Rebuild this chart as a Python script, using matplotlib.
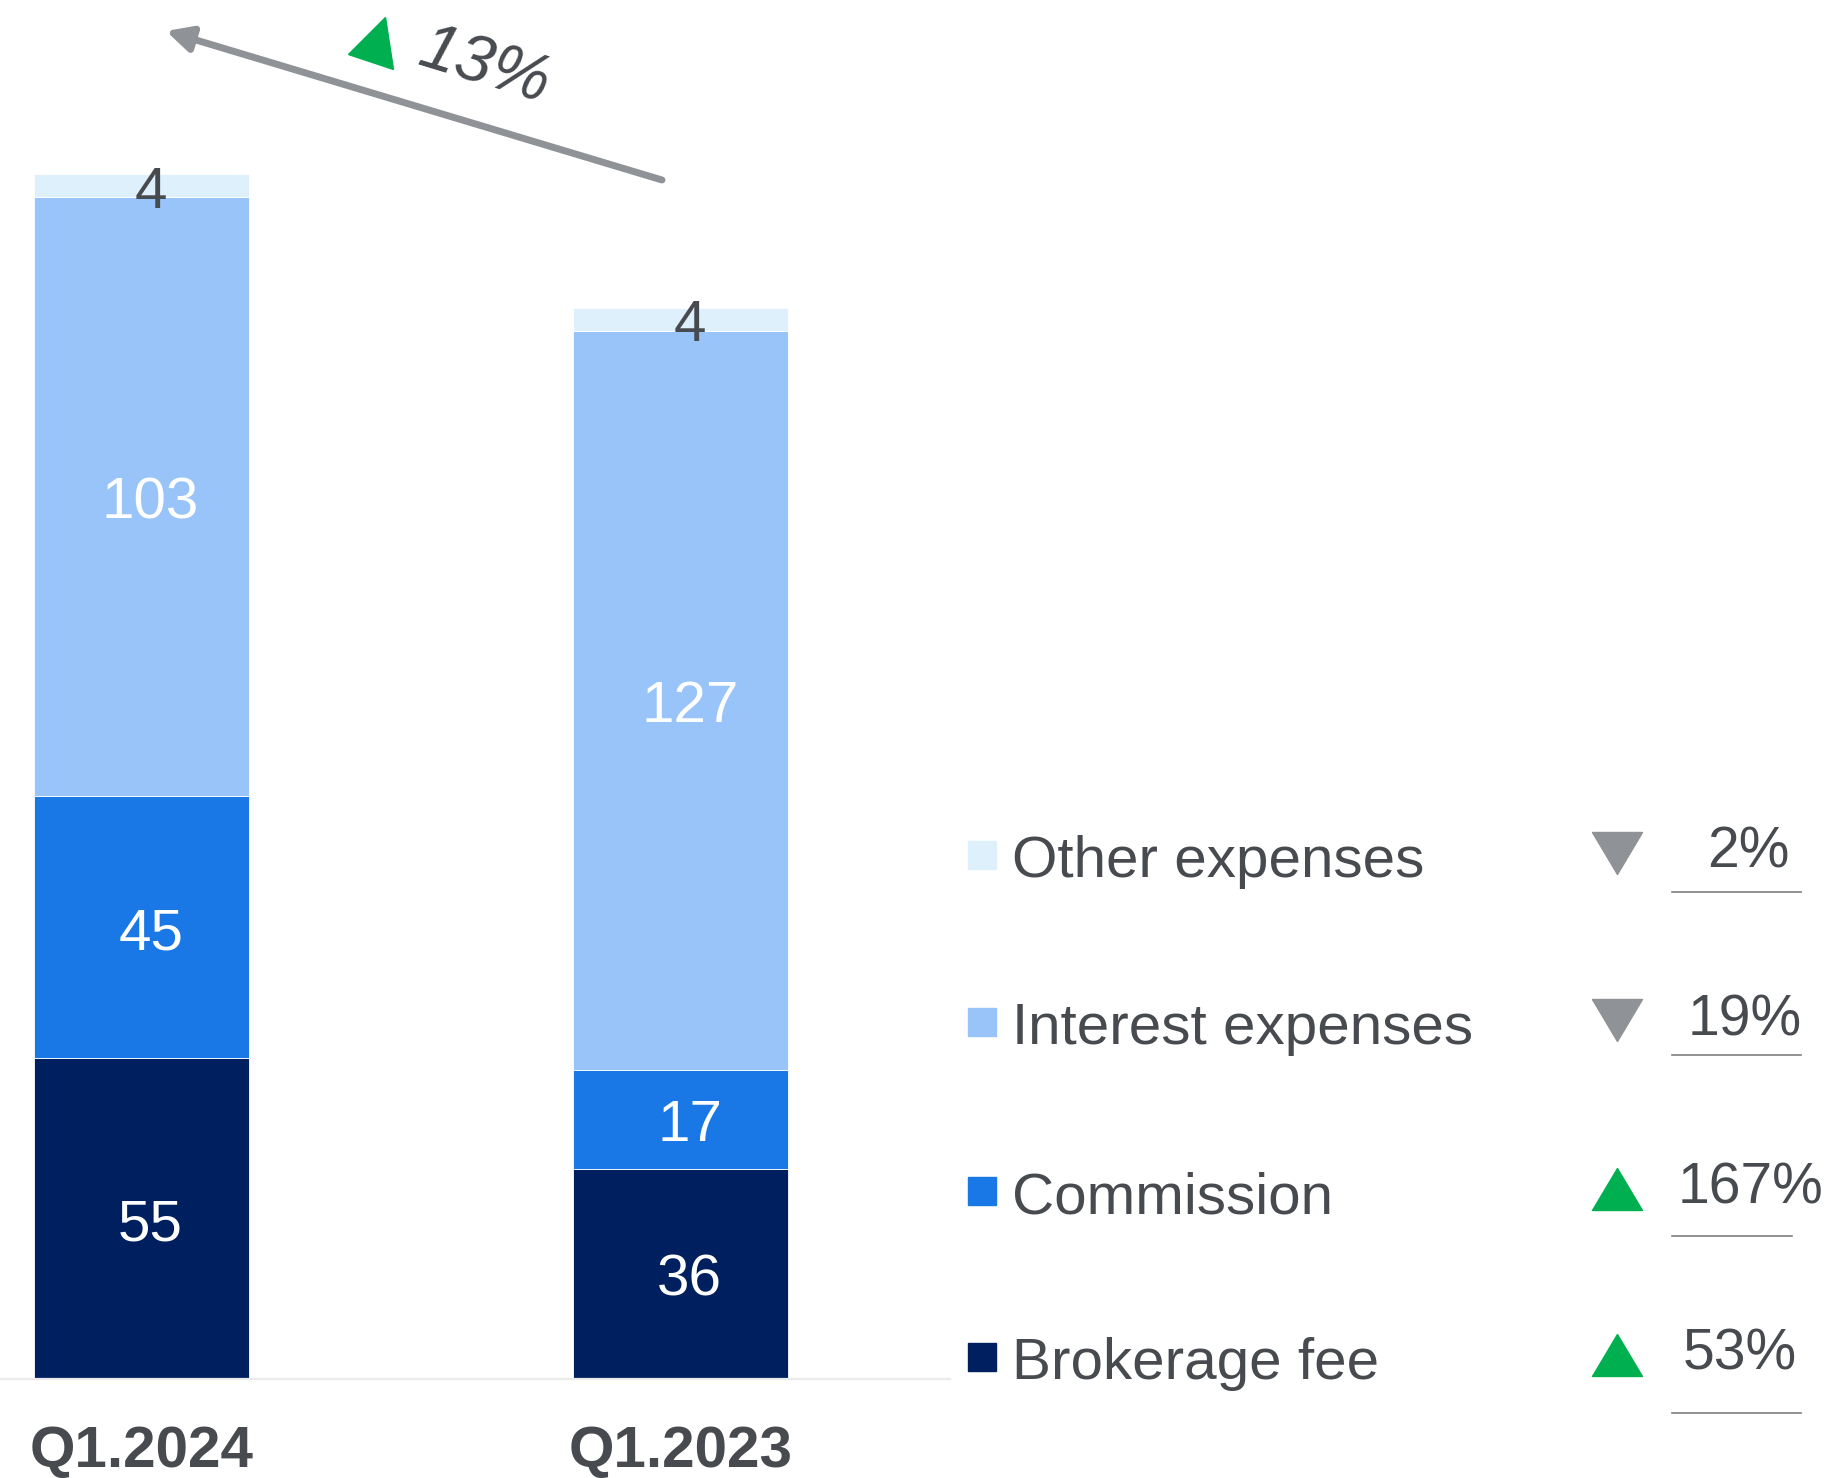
import numpy as np
import matplotlib
matplotlib.use("Agg")
import matplotlib.pyplot as plt
from matplotlib.markers import MarkerStyle
from matplotlib.transforms import Affine2D

plt.rcParams['font.family'] = ['Liberation Sans', 'DejaVu Sans']

# data
periods = ['Q1.2024', 'Q1.2023']
series = ['Brokerage fee', 'Commission', 'Interest expenses', 'Other expenses']
brokerage = [55, 36]
commission = [45, 17]
interest = [103, 127]
other = [4, 4]
changes = ['53%', '167%', '19%', '2%']     # same order as series
change_up = [True, True, False, False]
total_change = '13%'

colors = ['#001f5e', '#1a78e6', '#99c4fa', '#dff0fd']
label_colors = ['white', 'white', 'white', '#474b50']
txt = '#474b50'
green = '#00b050'
grey = '#8f9397'

W, H = 1834, 1478
fig = plt.figure(figsize=(W / 100, H / 100), dpi=100)

# bar axes, laid out in pixels
base_px = 1378
ax = fig.add_axes([0, (H - base_px) / H, 950 / W, base_px / H])
px_per_unit = 5.816
ax.set_ylim(0, base_px / px_per_unit)
ax.set_xlim(-141.5 / 539, (950 - 141.5) / 539)
ax.axis('off')

x = np.arange(len(periods))
stack = [brokerage, commission, interest, other]
bottom = np.zeros(len(periods))
for vals, c, lc in zip(stack, colors, label_colors):
    vals = np.array(vals, dtype=float)
    ax.bar(x, vals, 0.399, bottom=bottom, color=c, edgecolor='white', linewidth=0.6)
    for xi, b, v in zip(x, bottom, vals):
        ax.text(xi + 0.017, b + v / 2 - 1.2, f'{v:g}', ha='center', va='center',
                fontsize=42, color=lc)
    bottom += vals

# overlay axes in pixel coords for annotations
ov = fig.add_axes([0, 0, 1, 1], zorder=5)
ov.set_xlim(0, W)
ov.set_ylim(H, 0)
ov.axis('off')

# baseline
ov.plot([0, 950], [base_px + 1, base_px + 1], color='#ebebeb', lw=1.6)

# category labels
for xi, p in zip(x, periods):
    px = 141.5 + xi * 539
    ov.text(px, 1467, p, ha='center', va='baseline', fontsize=42,
            fontweight='bold', color=txt)

# growth arrow
ov.annotate('', xy=(166, 31), xytext=(662, 180),
            arrowprops=dict(arrowstyle='-|>', color=grey, lw=5,
                            mutation_scale=38, shrinkA=0, shrinkB=0))
tri = MarkerStyle('^', transform=Affine2D().rotate_deg(-18))
ov.plot([378], [39], marker=tri, markersize=34, color=green, linestyle='none')
ov.text(484, 68, total_change, ha='center', va='center', fontsize=48,
        style='italic', color=txt, rotation=-17, rotation_mode='anchor')

# legend with changes
up_tri = [(-0.5, -0.42), (0.5, -0.42), (0, 0.42), (-0.5, -0.42)]
down_tri = [(-0.5, 0.42), (0.5, 0.42), (0, -0.42), (-0.5, 0.42)]
rows_y = [1357, 1191, 1022, 855]     # centre of swatch, per series order
pct_x = [1740, 1751, 1745, 1748]
line_y = [1413, 1236, 1055, 892]
for i, (s, c, ch, up, yy) in enumerate(zip(series, colors, changes, change_up, rows_y)):
    ov.add_patch(plt.Rectangle((968, yy - 14), 28, 28, color=c))
    ov.text(1012, yy + 22, s, ha='left', va='baseline', fontsize=42, color=txt)
    ov.plot([1617], [yy - 2], marker=up_tri if up else down_tri, markersize=36,
            color=green if up else grey, linestyle='none')
    ov.text(pct_x[i], yy + 13, ch, ha='center', va='baseline', fontsize=41, color=txt)
    x2 = 1792 if ch == '167%' else 1801
    ov.plot([1672, x2], [line_y[i], line_y[i]], color='#7f7f7f', lw=1.2)

fig.savefig('out.png', dpi=100)
